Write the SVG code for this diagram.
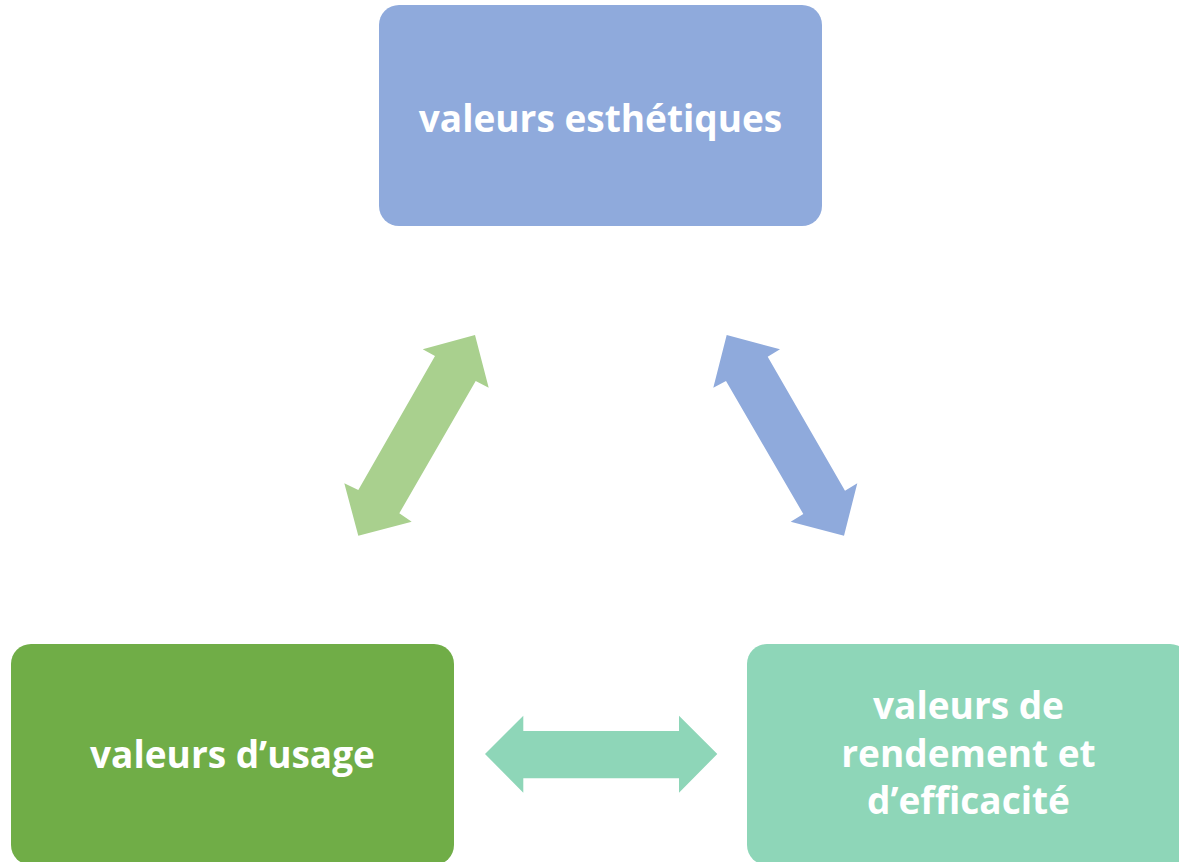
<svg xmlns="http://www.w3.org/2000/svg" width="1179" height="862" viewBox="0 0 1179 862">
<style>
.lbl{font-family:"Open Sans","Liberation Sans",sans-serif;font-weight:bold;font-size:37px;fill:#ffffff;text-anchor:middle;font-variant-ligatures:none}
</style>
<rect width="1179" height="862" fill="#ffffff"/>
<g id="connectors">
<polygon id="arrow-left" fill="#A9D08E" points="475,335 488.7,387.7 475.7,381 399.3,513.3 411.7,521.7 358.3,535.7 344.3,483.3 358.3,490 435,356 422.7,349.3"/>
<polygon id="arrow-right" fill="#8FAADC" points="726.7,335 780,349.3 767.7,356.7 845,490.7 857.3,483.3 844,535.7 790.7,521.7 803.3,514 726,381 713.3,387.7"/>
<polygon id="arrow-bottom" fill="#8ED6B8" points="485,754 523.3,715.7 523.3,731 679,731 679,715.7 717.3,754 679,792.7 679,778.3 523.3,778.3 523.3,792.7"/>
</g>
<g id="node-esthetiques">
<rect x="379" y="5" width="443" height="221" rx="20" fill="#8FAADC"/>
<text class="lbl" x="600.5" y="132">valeurs esthétiques</text>
</g>
<g id="node-usage">
<rect x="11" y="644" width="443" height="221" rx="20" fill="#70AD47"/>
<text class="lbl" x="232.5" y="768">valeurs d’usage</text>
</g>
<g id="node-rendement">
<rect x="747" y="644" width="443" height="221" rx="20" fill="#8ED6B8"/>
<text class="lbl" x="968.5" y="719">valeurs de</text>
<text class="lbl" x="968.5" y="767">rendement et</text>
<text class="lbl" x="968.5" y="814">d’efficacité</text>
</g>
</svg>
